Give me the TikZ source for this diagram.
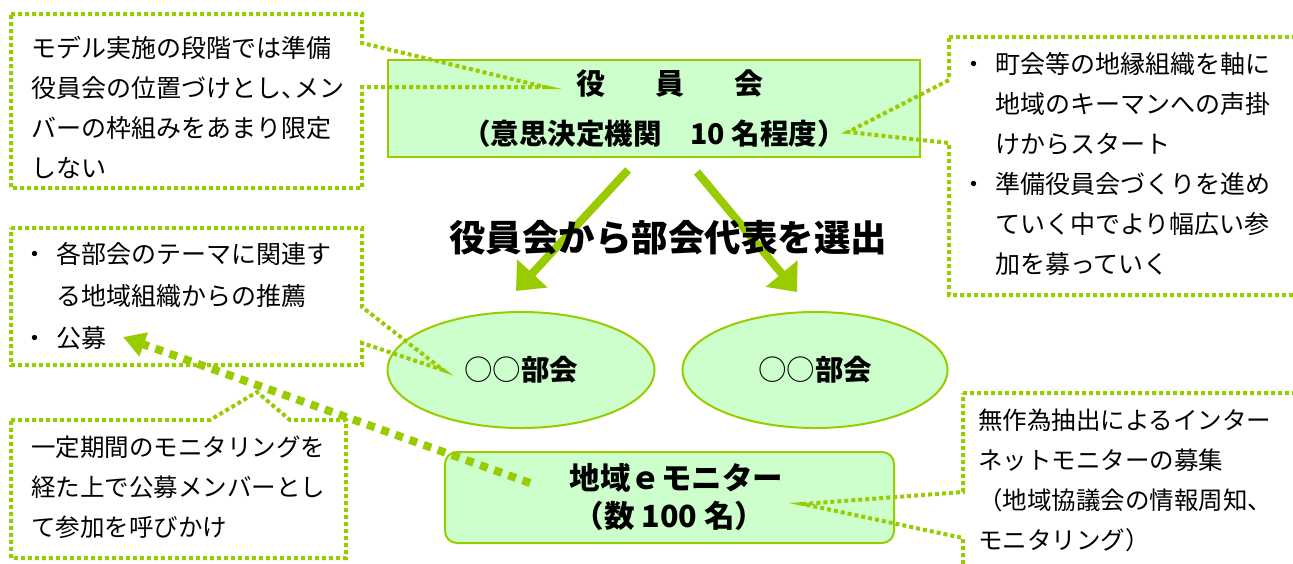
\documentclass[tikz,border=0pt]{standalone}
\usepackage{fontspec}
\setmainfont{Noto Sans CJK JP}
\usetikzlibrary{arrows.meta,shapes.geometric}
\definecolor{lg}{HTML}{99CC00}
\definecolor{pg}{HTML}{CCFFCC}
\newcommand{\tou}{\makebox[0.55em][l]{、}}
\newcommand{\bul}{\llap{・\hspace{9pt}}}
\begin{document}
\begin{tikzpicture}[x=1pt,y=-1pt,
  callout/.style={draw=lg,line width=4pt,dash pattern=on 4pt off 3pt},
  gbox/.style={draw=lg,fill=pg,line width=2pt,inner sep=0pt},
  txt/.style={anchor=north west,inner sep=0pt,align=left},
  sarrow/.style={draw=lg,line width=8pt,-{Triangle[length=24pt,width=40pt]}},
  darrow/.style={draw=lg,line width=8pt,dash pattern=on 8pt off 7pt,-{Triangle[length=22pt,width=24pt]}}]
\useasboundingbox (0,0) rectangle (1293,563);
\clip (0,0) rectangle (1293,563);
\fill[white] (0,0) rectangle (1293,563);

% main shapes
\node[gbox,minimum width=532pt,minimum height=97pt,align=center,font=\fontsize{28.5}{50}\selectfont\bfseries] (yak) at (654,108.5)
  {{\fontsize{29}{50}\selectfont\hspace{32pt}役\hspace{50pt}員\hspace{50pt}会}\\（意思決定機関　10 名程度）};
\node[gbox,ellipse,minimum width=267pt,minimum height=116pt,font=\fontsize{28.5}{34}\selectfont] (bu1) at (521,370) {○○\textbf{部会}};
\node[gbox,ellipse,minimum width=265pt,minimum height=116pt,font=\fontsize{28.5}{34}\selectfont] (bu2) at (815,370) {○○\textbf{部会}};
\node[gbox,rounded corners=12pt,minimum width=449pt,minimum height=91pt,align=center,font=\fontsize{30.5}{38}\selectfont\bfseries] (emon) at (669.5,497.5)
  {\hspace{14pt}地域ｅモニター\\（数 100 名）};

% selection arrows
\coordinate (a1s) at (628,170);
\coordinate (a1e) at (516,291);
\coordinate (a2s) at (697,172);
\coordinate (a2e) at (797,292);
\draw[sarrow] (a1s) -- (a1e);
\draw[sarrow] (a2s) -- (a2e);
\node[font=\fontsize{36.5}{40}\selectfont\bfseries,inner sep=0pt] (sel) at (668,238) {役員会から部会代表を選出};

% callout texts
\node[txt,font=\fontsize{25}{40}\selectfont] (c1) at (31,36)
  {モデル実施の段階では準備\\役員会の位置づけとし\tou メン\\バーの枠組みをあまり限定\\しない};
\node[txt,font=\fontsize{25}{40}\selectfont] (c2) at (995,52)
  {\bul 町会等の地縁組織を軸に\\地域のキーマンへの声掛\\けからスタート\\\bul 準備役員会づくりを進め\\ていく中でより幅広い参\\加を募っていく};
\node[txt,font=\fontsize{25}{42}\selectfont] (c3) at (56,242)
  {\bul 各部会のテーマに関連す\\る地域組織からの推薦\\\bul 公募};
\node[txt,font=\fontsize{24.5}{40}\selectfont] (c4) at (31,436)
  {一定期間のモニタリングを\\経た上で公募メンバーとし\\て参加を呼びかけ};
\node[txt,font=\fontsize{24.5}{40}\selectfont] (c5) at (978,409)
  {無作為抽出によるインター\\ネットモニターの募集\\（地域協議会の情報周知\tou\\モニタリング）};

% callout outlines
\coordinate (c1tip) at (545,87);
\coordinate (c2tip) at (848,132);
\coordinate (c3tip) at (443,370);
\coordinate (c4tip) at (257,392);
\coordinate (c5tip) at (803,504);
\draw[callout] (11,14) -- (362,14) -- (362,43) -- (c1tip) -- (362,87) -- (362,188) -- (11,188) -- cycle;
\draw[callout] (949,37) -- (1300,37) -- (1300,295) -- (949,295) -- (949,143) -- (c2tip) -- (949,80) -- cycle;
\draw[callout] (11,228) -- (362,228) -- (362,307) -- (c3tip) -- (362,343) -- (362,365) -- (11,365) -- cycle;
\draw[callout] (11,420) -- (210,420) -- (c4tip) -- (290,420) -- (346,420) -- (346,558) -- (11,558) -- cycle;
\draw[callout] (963,393) -- (1300,393) -- (1300,600) -- (963,600) -- (963,538) -- (c5tip) -- (963,492) -- cycle;

% recruitment arrow
\coordinate (dstart) at (530,483);
\coordinate (dend) at (123,337);
\draw[darrow] (dstart) -- (dend);
\end{tikzpicture}
\end{document}
